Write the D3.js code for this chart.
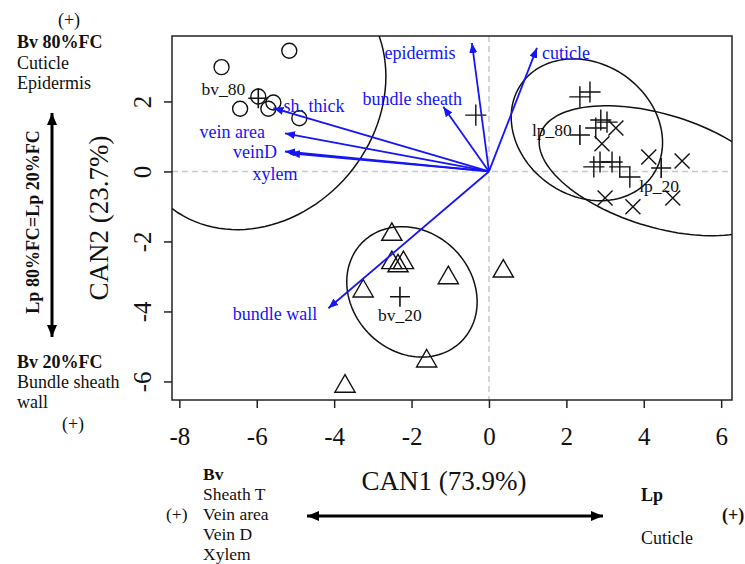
<!DOCTYPE html>
<html><head><meta charset="utf-8">
<script src="https://cdn.jsdelivr.net/npm/d3@7"></script>
<style>body{margin:0;background:#fff}svg{display:block}</style>
</head><body>
<svg id="c" width="745" height="564"></svg>
<script>
// ---------------- data ----------------
const xTicks = [-8, -6, -4, -2, 0, 2, 4, 6];
const yTicks = [-6, -4, -2, 0, 2];
const xTitle = "CAN1 (73.9%)";
const yTitle = "CAN2 (23.7%)";

// observations (canonical scores)
const bv80X = [-5.16, -6.91, -6.43, -5.96, -5.57, -5.70, -4.90];
const bv80Y = [3.45, 2.98, 1.79, 2.14, 1.97, 1.79, 1.52];
const bv20X = [-2.51, -2.51, -2.21, -2.35, -1.05, -3.25, -1.61, -3.72, 0.37];
const bv20Y = [-1.80, -2.61, -2.61, -2.70, -3.04, -3.42, -5.42, -6.14, -2.85];
const lp80X = [2.35, 2.61, 2.89, 2.76, 3.05, 2.87, 2.71, 3.18, 3.38, 3.64, -0.34];
const lp80Y = [2.13, 2.27, 1.47, 1.24, 1.41, 0.27, 0.13, 0.27, 0.13, -0.16, 1.61];
const lp20X = [3.28, 2.92, 4.13, 4.99, 3.00, 3.72, 4.75];
const lp20Y = [1.24, 0.79, 0.41, 0.30, -0.76, -1.01, -0.76];

// group means
const groupNames = ["bv_80", "bv_20", "lp_80", "lp_20"];
const meanX = [-5.96, -2.30, 2.35, 4.45];
const meanY = [2.09, -3.58, 1.04, 0.10];

// data ellipses (centre and covariance-like shape, data units)
const ellCx = [-5.96, -1.99, 2.53, 4.40];
const ellCy = [2.09, -3.44, 1.19, 0.02];
const ellSxx = [10.867, 2.837, 3.824, 9.630];
const ellSxy = [2.063, -0.481, -0.709, -2.535];
const ellSyy = [14.088, 3.469, 4.105, 3.451];

// structure vectors
const vecNames = ["epidermis", "cuticle", "bundle sheath", "sh. thick", "vein area", "veinD", "xylem", "bundle wall"];
const vecX = [-0.44, 1.24, -1.18, -5.57, -5.27, -5.27, -5.14, -4.15];
const vecY = [3.67, 3.53, 1.85, 1.81, 1.09, 0.57, 0.52, -3.91];

// ---------------- layout / style ----------------
const vecLabelPlace = [
  {dx:-52, dy:11.5, a:"middle"}, {dx:5, dy:6.5, a:"start"}, {dx:-31, dy:-6.5, a:"middle"},
  {dx:10, dy:-1, a:"start"}, {dx:-20, dy:0.5, a:"end"}, {dx:-8, dy:1.5, a:"end"},
  {dx:-15, dy:22, a:"middle"}, {dx:-11, dy:7, a:"end"}];
const groupLabelPlace = [{dx:-35, dy:-8}, {dx:0, dy:19}, {dx:-28, dy:-4}, {dx:-2, dy:19}];

const serif = "'Liberation Serif','Times New Roman',Times,serif";
const L = 172, R = 732, T = 36, B = 400;
const svg = d3.select("#c");
const x = d3.scaleLinear().domain([-8.19, 6.28]).range([L, R]);
const y = d3.scaleLinear().domain([-6.53, 3.87]).range([B, T]);

const defs = svg.append("defs");
defs.append("clipPath").attr("id", "clip").append("rect")
  .attr("x", L).attr("y", T).attr("width", R - L).attr("height", B - T);
defs.append("marker").attr("id", "bh").attr("viewBox", "0 0 10 8")
  .attr("refX", 10).attr("refY", 4).attr("markerWidth", 10).attr("markerHeight", 8)
  .attr("markerUnits", "userSpaceOnUse").attr("orient", "auto")
  .append("path").attr("d", "M0,0L10,4L0,8Z").attr("fill", "#1515f5");
defs.append("marker").attr("id", "kh").attr("viewBox", "0 0 12 10")
  .attr("refX", 12).attr("refY", 5).attr("markerWidth", 12).attr("markerHeight", 10)
  .attr("markerUnits", "userSpaceOnUse").attr("orient", "auto-start-reverse")
  .append("path").attr("d", "M0,0L12,5L0,10Z").attr("fill", "#000");

const plot = svg.append("g").attr("clip-path", "url(#clip)");

// reference lines
plot.append("line").attr("x1", x(0)).attr("x2", x(0)).attr("y1", T).attr("y2", B)
  .attr("stroke", "#c8c8c8").attr("stroke-width", 1.5).attr("stroke-dasharray", "6,4");
plot.append("line").attr("y1", y(0)).attr("y2", y(0)).attr("x1", L).attr("x2", R)
  .attr("stroke", "#c8c8c8").attr("stroke-width", 1.5).attr("stroke-dasharray", "6,4");

// ellipses
const ellLine = d3.line().x(d => x(d[0])).y(d => y(d[1])).curve(d3.curveLinearClosed);
groupNames.forEach((gname, i) => {
  const l11 = Math.sqrt(ellSxx[i]), l21 = ellSxy[i] / l11, l22 = Math.sqrt(ellSyy[i] - l21 * l21);
  const pts = d3.range(0, 360, 3).map(deg => {
    const t = deg * Math.PI / 180;
    return [ellCx[i] + l11 * Math.cos(t), ellCy[i] + l21 * Math.cos(t) + l22 * Math.sin(t)];
  });
  plot.append("path").attr("d", ellLine(pts)).attr("fill", "none")
    .attr("stroke", "#111").attr("stroke-width", 1.5);
});

// point symbols
const RAD = 7.5;
const sym = {
  circle: g => g.append("circle").attr("r", RAD),
  triangle: g => g.append("path").attr("d", `M0,${-1.555*RAD}L${1.347*RAD},${0.778*RAD}L${-1.347*RAD},${0.778*RAD}Z`),
  plus: g => g.append("path").attr("d", `M${-1.414*RAD},0H${1.414*RAD}M0,${-1.414*RAD}V${1.414*RAD}`),
  cross: g => g.append("path").attr("d", `M${-RAD},${-RAD}L${RAD},${RAD}M${-RAD},${RAD}L${RAD},${-RAD}`)
};
function drawPoints(xs, ys, kind) {
  xs.forEach((v, i) => {
    const g = plot.append("g").attr("transform", `translate(${x(v)},${y(ys[i])})`)
      .attr("fill", "none").attr("stroke", "#111").attr("stroke-width", 1.4);
    sym[kind](g);
  });
}
drawPoints(bv80X, bv80Y, "circle");
drawPoints(bv20X, bv20Y, "triangle");
drawPoints(lp80X, lp80Y, "plus");
drawPoints(lp20X, lp20Y, "cross");

// group means and labels
groupNames.forEach((gname, i) => {
  const g = plot.append("g").attr("transform", `translate(${x(meanX[i])},${y(meanY[i])})`)
    .attr("fill", "none").attr("stroke", "#111").attr("stroke-width", 1.6);
  g.append("path").attr("d", "M-10,0H10M0,-10V10");
  plot.append("text").attr("x", x(meanX[i]) + groupLabelPlace[i].dx)
    .attr("y", y(meanY[i]) + groupLabelPlace[i].dy + 5)
    .attr("text-anchor", "middle").attr("font-family", serif).attr("font-size", 17.5)
    .attr("fill", "#111").text(gname);
});

// structure vectors
vecNames.forEach((nm, i) => {
  plot.append("line").attr("x1", x(0)).attr("y1", y(0)).attr("x2", x(vecX[i])).attr("y2", y(vecY[i]))
    .attr("stroke", "#1515f5").attr("stroke-width", 1.8).attr("marker-end", "url(#bh)");
  const p = vecLabelPlace[i];
  plot.append("text").attr("x", x(vecX[i]) + p.dx).attr("y", y(vecY[i]) + p.dy + 4.5)
    .attr("text-anchor", p.a).attr("font-family", serif).attr("font-size", 18)
    .attr("fill", "#1515f5").text(nm);
});

// box
svg.append("rect").attr("x", L).attr("y", T).attr("width", R - L).attr("height", B - T)
  .attr("fill", "none").attr("stroke", "#222").attr("stroke-width", 1.5);

// axes
const xa = svg.append("g").attr("transform", `translate(0,${B})`)
  .call(d3.axisBottom(x).tickValues(xTicks).tickSize(8).tickFormat(d3.format("d")));
xa.select(".domain").remove();
xa.selectAll("line").attr("stroke", "#222").attr("stroke-width", 1.5);
xa.selectAll("text").attr("y", 45).attr("dy", null).attr("font-family", serif)
  .attr("font-size", 25).attr("fill", "#111").text(d => d < 0 ? "-" + Math.abs(d) : d);

const ya = svg.append("g").attr("transform", `translate(${L},0)`)
  .call(d3.axisLeft(y).tickValues(yTicks).tickSize(8));
ya.select(".domain").remove();
ya.selectAll("line").attr("stroke", "#222").attr("stroke-width", 1.5);
ya.selectAll("text").attr("x", 0).attr("y", -21).attr("dy", null).attr("transform", "rotate(-90)")
  .attr("text-anchor", "middle").attr("font-family", serif).attr("font-size", 25).attr("fill", "#111")
  .text(d => d < 0 ? "-" + Math.abs(d) : d);

svg.append("text").attr("x", 444).attr("y", 490).attr("text-anchor", "middle")
  .attr("font-family", serif).attr("font-size", 27).attr("fill", "#111").text(xTitle);
svg.append("text").attr("transform", "translate(108,218) rotate(-90)").attr("text-anchor", "middle")
  .attr("font-family", serif).attr("font-size", 27).attr("fill", "#111").text(yTitle);

// ---------------- annotations ----------------
function txt(xp, yp, s, opt = {}) {
  return svg.append("text").attr("x", xp).attr("y", yp).attr("font-family", serif)
    .attr("font-size", opt.size || 18).attr("font-weight", opt.bold ? "bold" : "normal")
    .attr("text-anchor", opt.anchor || "start").attr("fill", "#111").text(s);
}
txt(69, 26, "(+)", {anchor: "middle"});
txt(17, 48, "Bv 80%FC", {bold: true});
txt(17, 69, "Cuticle");
txt(17, 89, "Epidermis");
txt(17, 368, "Bv 20%FC", {bold: true});
txt(17, 388, "Bundle sheath");
txt(17, 408, "wall");
txt(73, 430, "(+)", {anchor: "middle"});
svg.append("text").attr("transform", "translate(39,222) rotate(-90)").attr("text-anchor", "middle")
  .attr("font-family", serif).attr("font-size", 18).attr("font-weight", "bold").attr("fill", "#111")
  .text("Lp 80%FC=Lp 20%FC");
svg.append("line").attr("x1", 52).attr("x2", 52).attr("y1", 113).attr("y2", 337)
  .attr("stroke", "#000").attr("stroke-width", 3)
  .attr("marker-start", "url(#kh)").attr("marker-end", "url(#kh)");

txt(203, 480, "Bv", {bold: true, size: 17.5});
txt(203, 500, "Sheath T", {size: 17.5});
txt(166, 520, "(+)", {size: 17.5});
txt(203, 520, "Vein area", {size: 17.5});
txt(203, 540, "Vein D", {size: 17.5});
txt(203, 560, "Xylem", {size: 17.5});
svg.append("line").attr("x1", 307).attr("x2", 603).attr("y1", 516).attr("y2", 516)
  .attr("stroke", "#000").attr("stroke-width", 3)
  .attr("marker-start", "url(#kh)").attr("marker-end", "url(#kh)");
txt(641, 501, "Lp", {bold: true});
txt(641, 544, "Cuticle");
txt(722, 521, "(+)", {bold: true});
</script>
</body></html>
